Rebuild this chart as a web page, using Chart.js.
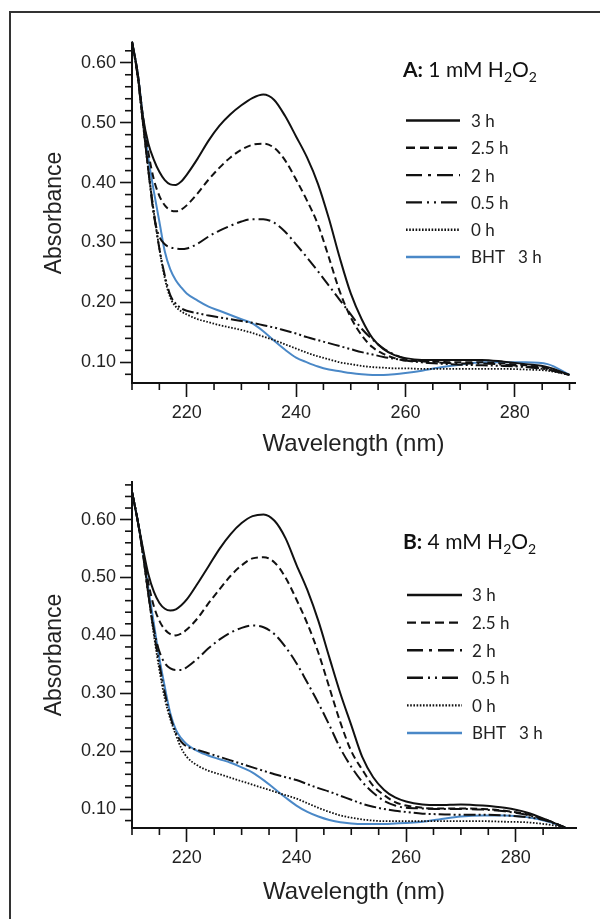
<!DOCTYPE html>
<html>
<head>
<meta charset="utf-8">
<script src="https://cdn.jsdelivr.net/npm/chart.js@4.4.0/dist/chart.umd.min.js"></script>
<style>
html, body { margin: 0; padding: 0; background: #fff; }
#wrap { position: relative; width: 600px; height: 919px; overflow: hidden; }
#frame { position: absolute; left: 9px; top: 11px; width: 700px; height: 1000px;
         border-left: 2px solid #333; border-top: 2px solid #333; }
.panel { position: absolute; left: 0; width: 600px; }
canvas { display: block; }
</style>
</head>
<body>
<div id="wrap">
  <div id="frame"></div>
  <div class="panel" style="top:0;height:460px"><canvas id="chartA" width="600" height="460"></canvas></div>
  <div class="panel" style="top:460px;height:459px"><canvas id="chartB" width="600" height="459"></canvas></div>
</div>
<script>
// tick labels
const xTicks = [220, 240, 260, 280];
const yTicks = [0.10, 0.20, 0.30, 0.40, 0.50, 0.60];
const seriesNames = ["3 h", "2.5 h", "2 h", "0.5 h", "0 h", "BHT   3 h"];

// panel A: 1 mM H2O2
const wlA = [210, 211, 212, 213, 214, 215, 216, 217, 218, 219, 220, 222, 224, 226, 228, 230, 232, 234, 236, 238, 240,
             242, 244, 246, 248, 250, 252, 254, 256, 258, 260, 263, 266, 270, 274, 278, 282, 286, 290];
const a3h  = [0.635, 0.585, 0.510, 0.465, 0.438, 0.418, 0.404, 0.397, 0.396, 0.402, 0.413, 0.440, 0.470, 0.495, 0.514, 0.529, 0.541, 0.547, 0.538, 0.511, 0.477,
              0.442, 0.398, 0.340, 0.274, 0.215, 0.172, 0.140, 0.122, 0.112, 0.107, 0.104, 0.104, 0.104, 0.104, 0.101, 0.097, 0.092, 0.079];
const a25h = [0.635, 0.585, 0.510, 0.450, 0.405, 0.378, 0.362, 0.354, 0.352, 0.355, 0.362, 0.382, 0.405, 0.425, 0.442, 0.455, 0.463, 0.465, 0.458, 0.437, 0.405,
              0.370, 0.330, 0.275, 0.218, 0.175, 0.145, 0.125, 0.114, 0.107, 0.103, 0.102, 0.101, 0.100, 0.100, 0.098, 0.095, 0.090, 0.079];
const a2h  = [0.635, 0.580, 0.500, 0.420, 0.345, 0.310, 0.297, 0.292, 0.290, 0.289, 0.290, 0.298, 0.310, 0.320, 0.328, 0.335, 0.339, 0.339, 0.333, 0.318, 0.297,
              0.275, 0.252, 0.228, 0.204, 0.180, 0.156, 0.138, 0.123, 0.113, 0.106, 0.102, 0.100, 0.098, 0.098, 0.096, 0.093, 0.088, 0.079];
const a05h = [0.635, 0.580, 0.500, 0.420, 0.350, 0.290, 0.245, 0.212, 0.198, 0.190, 0.186, 0.182, 0.178, 0.175, 0.172, 0.169, 0.166, 0.162, 0.158, 0.153, 0.148,
              0.142, 0.137, 0.132, 0.127, 0.122, 0.117, 0.113, 0.109, 0.106, 0.103, 0.100, 0.098, 0.096, 0.095, 0.094, 0.092, 0.088, 0.079];
const a0h  = [0.635, 0.580, 0.500, 0.420, 0.350, 0.290, 0.240, 0.208, 0.193, 0.185, 0.180, 0.172, 0.167, 0.162, 0.158, 0.154, 0.149, 0.143, 0.137, 0.130, 0.123,
              0.116, 0.110, 0.105, 0.100, 0.097, 0.094, 0.092, 0.091, 0.090, 0.090, 0.089, 0.089, 0.089, 0.089, 0.089, 0.088, 0.086, 0.079];
const aBht = [0.635, 0.585, 0.510, 0.440, 0.385, 0.335, 0.285, 0.255, 0.237, 0.225, 0.215, 0.203, 0.193, 0.186, 0.179, 0.172, 0.165, 0.152, 0.136, 0.121, 0.108,
              0.100, 0.093, 0.088, 0.085, 0.082, 0.080, 0.079, 0.079, 0.080, 0.082, 0.086, 0.091, 0.096, 0.100, 0.100, 0.100, 0.097, 0.079];

// panel B: 4 mM H2O2
const wlB = [210, 211, 212, 213, 214, 215, 216, 217, 218, 219, 220, 222, 224, 226, 228, 230, 232, 234, 236, 238, 240,
             242, 244, 246, 248, 250, 252, 254, 256, 258, 260, 263, 266, 270, 274, 278, 282, 286, 289];
const b3h  = [0.648, 0.600, 0.550, 0.505, 0.475, 0.456, 0.446, 0.443, 0.445, 0.452, 0.462, 0.490, 0.520, 0.550, 0.575, 0.594, 0.606, 0.609, 0.598, 0.568, 0.522,
              0.478, 0.425, 0.362, 0.300, 0.245, 0.190, 0.155, 0.133, 0.120, 0.113, 0.108, 0.107, 0.108, 0.106, 0.102, 0.094, 0.080, 0.068];
const b25h = [0.648, 0.600, 0.545, 0.490, 0.450, 0.425, 0.410, 0.402, 0.400, 0.403, 0.410, 0.430, 0.456, 0.480, 0.503, 0.521, 0.533, 0.535, 0.526, 0.500, 0.462,
              0.420, 0.370, 0.310, 0.250, 0.200, 0.168, 0.140, 0.124, 0.112, 0.106, 0.102, 0.101, 0.101, 0.100, 0.097, 0.091, 0.080, 0.068];
const b2h  = [0.648, 0.600, 0.540, 0.470, 0.410, 0.372, 0.352, 0.343, 0.340, 0.340, 0.345, 0.360, 0.378, 0.393, 0.405, 0.413, 0.417, 0.414, 0.402, 0.380, 0.352,
              0.318, 0.283, 0.245, 0.205, 0.173, 0.147, 0.128, 0.114, 0.106, 0.102, 0.101, 0.100, 0.100, 0.099, 0.096, 0.090, 0.079, 0.068];
const b05h = [0.648, 0.600, 0.540, 0.470, 0.405, 0.350, 0.300, 0.260, 0.232, 0.216, 0.208, 0.202, 0.196, 0.190, 0.184, 0.178, 0.172, 0.166, 0.160, 0.155, 0.150,
              0.143, 0.136, 0.130, 0.123, 0.116, 0.109, 0.104, 0.100, 0.097, 0.095, 0.092, 0.091, 0.090, 0.090, 0.089, 0.086, 0.079, 0.068];
const b0h  = [0.648, 0.600, 0.540, 0.470, 0.400, 0.340, 0.290, 0.255, 0.228, 0.205, 0.190, 0.175, 0.166, 0.160, 0.154, 0.148, 0.142, 0.136, 0.130, 0.124, 0.118,
              0.110, 0.102, 0.095, 0.089, 0.085, 0.082, 0.080, 0.079, 0.079, 0.079, 0.079, 0.079, 0.079, 0.079, 0.078, 0.077, 0.073, 0.068];
const bBht = [0.648, 0.600, 0.545, 0.480, 0.420, 0.360, 0.310, 0.265, 0.237, 0.222, 0.212, 0.200, 0.192, 0.186, 0.180, 0.172, 0.163, 0.150, 0.135, 0.120, 0.106,
              0.095, 0.087, 0.081, 0.077, 0.075, 0.074, 0.074, 0.074, 0.075, 0.076, 0.078, 0.082, 0.087, 0.089, 0.089, 0.086, 0.078, 0.068];

const lineStyles = [
    { color: '#111', dash: [],                 width: 2.0, legendDash: [] },
    { color: '#111', dash: [7, 4],             width: 2.0, legendDash: [9, 5] },
    { color: '#111', dash: [12, 4, 2, 4],      width: 2.0, legendDash: [16, 6, 3, 6] },
    { color: '#111', dash: [12, 3, 2, 3, 2, 3], width: 2.0, legendDash: [16, 5, 2, 5, 2, 5] },
    { color: '#111', dash: [1.6, 1.6],         width: 1.8, legendDash: [1.6, 1.6] },
    { color: '#4a88c7', dash: [],              width: 2.0, legendDash: [] }
];

function makeSets(wl, series) {
    return series.map(function(vals, i) {
        const st = lineStyles[i];
        return {
            label: seriesNames[i],
            data: vals.map(function(v, j) { return { x: wl[j], y: v }; }),
            borderColor: st.color,
            borderWidth: st.width,
            borderDash: st.dash,
            legendDash: st.legendDash,
            pointRadius: 0,
            fill: false,
            clip: false,
            cubicInterpolationMode: 'monotone'
        };
    });
}

// minor ticks, panel title and legend
const extras = {
    id: 'extras',
    afterDraw(chart, args, o) {
        const ctx = chart.ctx, xs = chart.scales.x, ys = chart.scales.y, a = chart.chartArea;
        ctx.save();
        ctx.strokeStyle = '#111';
        ctx.lineWidth = 1.6;
        ctx.setLineDash([]);
        for (let v = o.xMinor[0]; v <= o.xMinor[1] + 0.01; v += 5) {
            if (xTicks.indexOf(v) >= 0) continue;
            const px = xs.getPixelForValue(v);
            ctx.beginPath(); ctx.moveTo(px, a.bottom); ctx.lineTo(px, a.bottom + 7); ctx.stroke();
        }
        for (let i = 0; ; i++) {
            const v = o.yMinor[0] + i * 0.02;
            if (v > o.yMinor[1] + 1e-6) break;
            if (Math.abs(v * 10 - Math.round(v * 10)) < 1e-6) continue;
            const py = ys.getPixelForValue(v);
            ctx.beginPath(); ctx.moveTo(a.left - 7, py); ctx.lineTo(a.left, py); ctx.stroke();
        }

        // title with subscripts
        ctx.fillStyle = '#111';
        ctx.textAlign = 'left';
        ctx.textBaseline = 'alphabetic';
        let tx = o.title.x;
        o.title.parts.forEach(function(p) {
            ctx.font = p.font;
            ctx.fillText(p.text, tx, o.title.y + (p.dy || 0));
            tx += ctx.measureText(p.text).width;
        });

        // legend
        const lg = o.legend;
        ctx.font = '17px Lato, "Open Sans", sans-serif';
        ctx.textBaseline = 'middle';
        chart.data.datasets.forEach(function(ds, i) {
            const y = lg.y + i * lg.step;
            ctx.strokeStyle = ds.borderColor;
            ctx.lineWidth = i === 5 ? 2.6 : 2.4;
            ctx.setLineDash(ds.legendDash);
            ctx.beginPath(); ctx.moveTo(lg.x1, y); ctx.lineTo(lg.x2, y); ctx.stroke();
            ctx.setLineDash([]);
            ctx.fillStyle = '#222';
            ctx.fillText(ds.label, lg.tx, y + 1);
        });
        ctx.restore();
    }
};

const axisFont = '"Liberation Sans", Arial, sans-serif';

function makeChart(id, wl, series, yMin, yMax, pad, xH, extra) {
    return new Chart(document.getElementById(id), {
        type: 'line',
        data: { datasets: makeSets(wl, series) },
        options: {
            responsive: false,
            animation: false,
            layout: { padding: pad },
            plugins: {
                legend: { display: false },
                tooltip: { enabled: false },
                extras: extra
            },
            scales: {
                x: {
                    type: 'linear',
                    min: 210,
                    max: 291,
                    afterBuildTicks: function(s) { s.ticks = xTicks.map(function(v) { return { value: v }; }); },
                    afterFit: function(s) { s.height = xH; },
                    border: { display: true, color: '#111', width: 2 },
                    grid: { drawOnChartArea: false, drawTicks: true, tickLength: 14, tickWidth: 1.6, tickColor: '#111' },
                    ticks: { color: '#222', padding: 5, maxRotation: 0, font: { family: axisFont, size: 18 } },
                    title: { display: true, text: 'Wavelength (nm)', color: '#222', padding: 0,
                             font: { family: axisFont, size: 24 } }
                },
                y: {
                    type: 'linear',
                    min: yMin,
                    max: yMax,
                    afterBuildTicks: function(s) { s.ticks = yTicks.map(function(v) { return { value: v }; }); },
                    afterFit: function(s) { s.width = 91; },
                    border: { display: true, color: '#111', width: 2 },
                    grid: { drawOnChartArea: false, drawTicks: true, tickLength: 12, tickWidth: 1.6, tickColor: '#111' },
                    ticks: { color: '#222', padding: 4, callback: function(v) { return Number(v).toFixed(2); },
                             font: { family: axisFont, size: 18 } },
                    title: { display: true, text: 'Absorbance', color: '#222', padding: 0,
                             font: { family: axisFont, size: 23 } }
                }
            }
        },
        plugins: [extras]
    });
}

const boldT = 'bold 21px Lato, "Open Sans", sans-serif';
const regT = '21px Lato, "Open Sans", sans-serif';
const subT = '14px Lato, "Open Sans", sans-serif';

makeChart('chartA', wlA, [a3h, a25h, a2h, a05h, a0h, aBht], 0.0655, 0.633,
    { left: 41, right: 25, top: 43, bottom: 1 }, 76,
    {
        xMinor: [210, 290], yMinor: [0.08, 0.62],
        title: { x: 403, y: 77, parts: [
            { text: 'A:', font: boldT }, { text: ' 1 mM H', font: regT }, { text: '2', font: subT, dy: 5 },
            { text: 'O', font: regT }, { text: '2', font: subT, dy: 5 } ] },
        legend: { x1: 406, x2: 460, tx: 471, y: 120.5, step: 27.3 }
    });

makeChart('chartB', wlB, [b3h, b25h, b2h, b05h, b0h, bBht], 0.0672, 0.665,
    { left: 41, right: 24, top: 22, bottom: 12 }, 79,
    {
        xMinor: [210, 285], yMinor: [0.08, 0.66],
        title: { x: 403, y: 89, parts: [
            { text: 'B:', font: boldT }, { text: ' 4 mM H', font: regT }, { text: '2', font: subT, dy: 5 },
            { text: 'O', font: regT }, { text: '2', font: subT, dy: 5 } ] },
        legend: { x1: 407, x2: 462, tx: 472, y: 135, step: 27.6 }
    });
</script>
</body>
</html>
